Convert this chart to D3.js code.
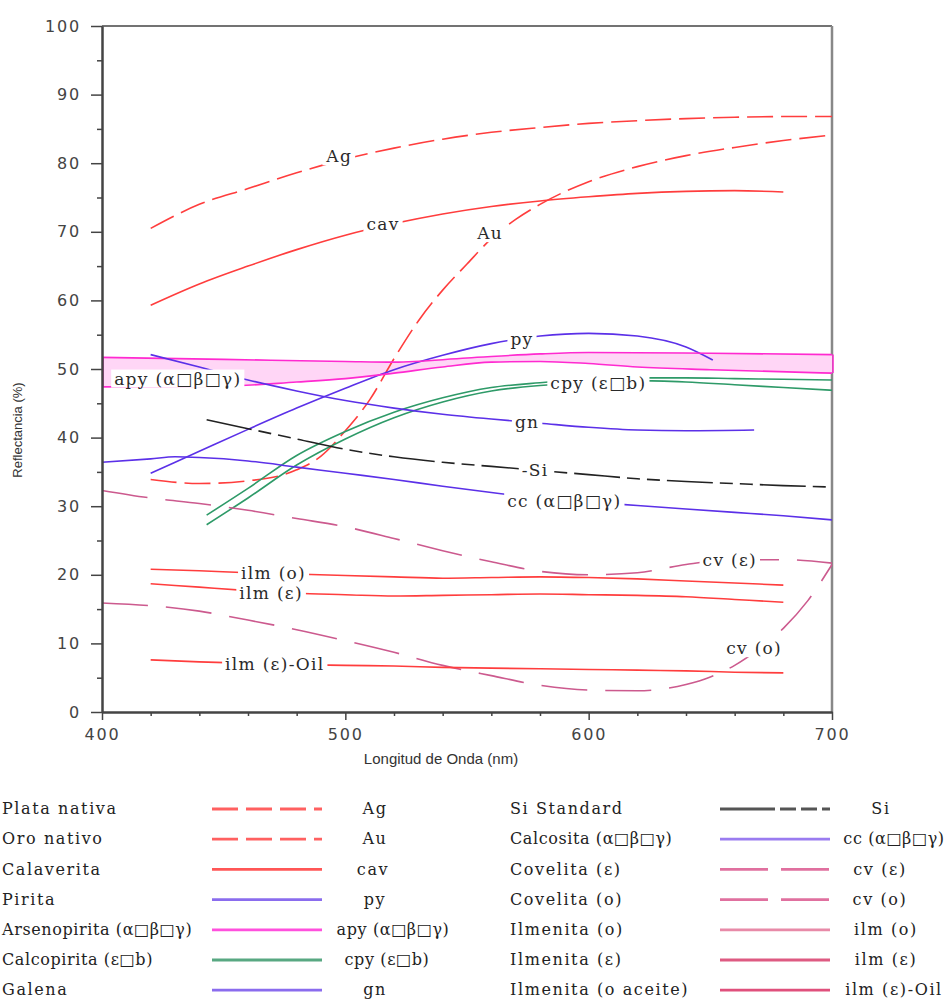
<!DOCTYPE html>
<html><head><meta charset="utf-8">
<script src="https://cdn.jsdelivr.net/npm/d3@7"></script>
<style>body{margin:0;background:#fff}svg{display:block}</style>
</head><body>
<svg id="c" width="952" height="1001"></svg>
<script>
// ---------- data (wavelength nm, reflectance %) ----------
const agData  = [[420,70.5],[440,74.0],[460,76.3],[480,78.6],[500,80.6],[520,82.2],[540,83.5],[560,84.5],[580,85.2],[600,85.8],[620,86.2],[640,86.5],[660,86.7],[680,86.8],[700,86.8]];
const auData  = [[420,33.9],[440,33.3],[460,33.7],[480,35.3],[490,37.3],[500,41.0],[510,45.5],[520,51.5],[530,57.0],[540,61.5],[550,65.3],[560,69.0],[570,71.8],[580,74.0],[600,77.3],[620,79.5],[640,81.1],[660,82.3],[680,83.3],[700,84.1]];
const cavData = [[420,59.3],[440,62.4],[460,65.0],[480,67.4],[500,69.5],[520,71.2],[540,72.6],[560,73.7],[580,74.5],[600,75.1],[620,75.6],[640,75.9],[660,76.0],[680,75.8]];
const pyData  = [[420,34.8],[440,38.0],[460,41.2],[480,44.3],[500,47.2],[520,49.9],[540,52.0],[560,53.7],[580,54.8],[600,55.2],[620,54.8],[640,53.2],[651,51.3]];
const apyHigh = [[400,51.7],[450,51.4],[500,51.1],[520,51.0],[550,51.6],[580,52.2],[600,52.4],[650,52.3],[700,52.1]];
const apyLow  = [[400,47.4],[450,47.5],[480,48.1],[500,48.6],[520,49.4],[540,50.3],[560,51.0],[580,51.1],[600,50.8],[620,50.3],[650,49.9],[700,49.4]];
const cpyA    = [[443,28.7],[460,32.6],[480,37.4],[500,40.9],[520,43.7],[540,45.8],[560,47.3],[580,48.0],[600,48.5],[620,48.7],[640,48.7],[660,48.6],[680,48.5],[700,48.4]];
const cpyB    = [[443,27.3],[460,31.2],[480,36.0],[500,39.8],[520,42.9],[540,45.2],[560,46.8],[580,47.6],[600,48.0],[620,48.3],[640,48.1],[660,47.7],[680,47.3],[700,46.9]];
const gnData  = [[420,52.1],[440,50.3],[460,48.4],[480,46.8],[500,45.4],[520,44.3],[540,43.4],[560,42.7],[580,42.1],[600,41.5],[620,41.1],[640,41.0],[668,41.1]];
const siData  = [[443,42.6],[460,41.3],[480,39.8],[500,38.3],[520,37.2],[540,36.4],[560,35.8],[580,35.2],[600,34.6],[620,34.0],[640,33.6],[660,33.3],[680,33.0],[700,32.8]];
const ccData  = [[400,36.4],[420,36.9],[430,37.2],[440,37.1],[460,36.6],[480,35.7],[500,34.8],[520,33.9],[540,32.9],[560,32.0],[580,31.2],[600,30.6],[620,30.1],[640,29.6],[660,29.1],[680,28.6],[700,28.0]];
const cvEData = [[400,32.3],[420,31.2],[440,30.4],[460,29.4],[480,28.2],[500,27.0],[520,25.3],[540,23.5],[560,21.9],[580,20.5],[600,20.0],[620,20.3],[640,21.5],[660,22.2],[680,22.2],[700,21.7]];
const cvOData = [[400,15.9],[420,15.5],[440,14.7],[460,13.4],[480,12.0],[500,10.4],[520,8.7],[540,6.8],[560,5.3],[580,3.9],[600,3.2],[620,3.1],[640,4.0],[650,5.1],[660,6.8],[670,9.2],[680,12.2],[690,16.2],[700,21.5]];
const ilmOData = [[420,20.8],[440,20.6],[460,20.3],[480,20.1],[500,19.9],[520,19.7],[540,19.5],[560,19.6],[580,19.7],[600,19.6],[620,19.4],[640,19.1],[660,18.8],[680,18.5]];
const ilmEData = [[420,18.7],[440,18.2],[460,17.7],[480,17.3],[500,17.1],[520,16.9],[540,17.0],[560,17.1],[580,17.2],[600,17.1],[620,17.0],[640,16.8],[660,16.4],[680,16.0]];
const ilmOilData = [[420,7.6],[440,7.3],[460,7.1],[480,6.9],[500,6.8],[520,6.7],[540,6.5],[560,6.4],[580,6.3],[600,6.2],[620,6.1],[640,6.0],[660,5.8],[680,5.7]];

const yTicks = [0,10,20,30,40,50,60,70,80,90,100];
const xTicks = [400,500,600,700];

const legendLeftNames  = ["Plata nativa","Oro nativo","Calaverita","Pirita","Arsenopirita (\u03b1\u25a1\u03b2\u25a1\u03b3)","Calcopirita (\u03b5\u25a1b)","Galena"];
const legendLeftCodes  = ["Ag","Au","cav","py","apy (\u03b1\u25a1\u03b2\u25a1\u03b3)","cpy (\u03b5\u25a1b)","gn"];
const legendRightNames = ["Si Standard","Calcosita (\u03b1\u25a1\u03b2\u25a1\u03b3)","Covelita (\u03b5)","Covelita (\u03bf)","Ilmenita (\u03bf)","Ilmenita (\u03b5)","Ilmenita (\u03bf aceite)"];
const legendRightCodes = ["Si","cc (\u03b1\u25a1\u03b2\u25a1\u03b3)","cv (\u03b5)","cv (\u03bf)","ilm (\u03bf)","ilm (\u03b5)","ilm (\u03b5)-Oil"];

// ---------- styles / layout ----------
const RED="#ff3d3d", BLUE="#5b30e8", MAG="#ff2ad0", GRN="#2e9a68", BLK="#222", CV="#cc5a8e";
const DASH_AG="26,8", DASH_SI="46,7,13,7,13,7", DASH_CV="46,18";
const leftCodeX  = [375,375,373,375,393,387,375];
const rightCodeX = [881,894,880,880,886,886,894];

const series = [
  {d:agData,  c:RED, dash:DASH_AG},
  {d:auData,  c:RED, dash:DASH_AG},
  {d:cavData, c:RED},
  {d:pyData,  c:BLUE},
  {d:apyHigh, c:MAG},
  {d:apyLow,  c:MAG},
  {d:cpyA,    c:GRN},
  {d:cpyB,    c:GRN},
  {d:gnData,  c:BLUE},
  {d:siData,  c:BLK, dash:DASH_SI},
  {d:ccData,  c:BLUE},
  {d:cvEData, c:CV, dash:DASH_CV},
  {d:cvOData, c:CV, dash:DASH_CV},
  {d:ilmOData, c:RED},
  {d:ilmEData, c:RED},
  {d:ilmOilData, c:RED}
];

// labels: [text, wavelength, reflectance, anchor]
const plotLabels = [
  ["Ag",497.5,81,"middle"],
  ["cav",515.5,71.2,"middle"],
  ["Au",559.5,69.8,"middle"],
  ["py",572.6,54.3,"middle"],
  ["apy (\u03b1\u25a1\u03b2\u25a1\u03b3)",405,48.6,"start"],
  ["cpy (\u03b5\u25a1b)",604,47.9,"middle"],
  ["gn",574.7,42.2,"middle"],
  ["-Si",578,35.3,"middle"],
  ["cc (\u03b1\u25a1\u03b2\u25a1\u03b3)",590,30.7,"middle"],
  ["cv (\u03b5)",658,22.2,"middle"],
  ["ilm (\u03bf)",470.5,20.2,"middle"],
  ["ilm (\u03b5)",469.5,17.4,"middle"],
  ["cv (\u03bf)",668,9.3,"middle"],
  ["ilm (\u03b5)-Oil",471,7.0,"middle"]
];

const svg = d3.select("#c");
const x = d3.scaleLinear().domain([400,700]).range([102,832]);
const y = d3.scaleLinear().domain([0,100]).range([712,26]);

// frame (top & right)
svg.append("path").attr("d",`M${x(400)},${y(100)}H${x(700)}`).attr("stroke","#444").attr("stroke-width",1.5).attr("fill","none");
svg.append("path").attr("d",`M${x(700)},${y(100)}V${y(0)}`).attr("stroke","#888").attr("stroke-width",2.5).attr("fill","none");

// apy band fill
const area = d3.area().x(d=>x(d[0])).y0(d=>y(d[1])).y1(d=>y(d[2])).curve(d3.curveMonotoneX);
const bandX = d3.range(400,701,5);
const interp = (arr,v)=>{ for(let i=0;i<arr.length-1;i++){ if(v>=arr[i][0]&&v<=arr[i+1][0]){const t=(v-arr[i][0])/(arr[i+1][0]-arr[i][0]);return arr[i][1]+t*(arr[i+1][1]-arr[i][1]);} } return arr[arr.length-1][1]; };
svg.append("path").datum(bandX.map(v=>[v,interp(apyHigh,v),interp(apyLow,v)]))
  .attr("d",area).attr("fill","#ffd6f6").attr("stroke","none");
[400,700].forEach(v=>{
  svg.append("line").attr("x1",x(v)+1).attr("x2",x(v)+1).attr("y1",y(apyHigh.find(d=>d[0]===v)[1])).attr("y2",y(apyLow.find(d=>d[0]===v)[1])).attr("stroke",MAG).attr("stroke-width",1.5);
});

const line = d3.line().x(d=>x(d[0])).y(d=>y(d[1])).curve(d3.curveMonotoneX);
series.forEach(s=>{
  svg.append("path").datum(s.d).attr("d",line).attr("fill","none")
    .attr("stroke",s.c).attr("stroke-width",1.6)
    .attr("stroke-dasharray",s.dash||null);
});

// axes
svg.append("g").attr("transform",`translate(${x(400)},0)`)
  .call(d3.axisLeft(y).tickValues(yTicks).tickSize(11).tickPadding(10).tickSizeOuter(0));
svg.append("g").attr("transform",`translate(${x(400)},0)`)
  .call(d3.axisLeft(y).tickValues(d3.range(5,100,10)).tickSize(5).tickFormat("").tickSizeOuter(0));
svg.append("g").attr("transform",`translate(0,${y(0)})`)
  .call(d3.axisBottom(x).tickValues(xTicks).tickSize(8).tickPadding(9).tickSizeOuter(0));
svg.append("g").attr("transform",`translate(0,${y(0)})`)
  .call(d3.axisBottom(x).tickValues(d3.range(420,700,20).filter(v=>v%100)).tickSize(4).tickFormat("").tickSizeOuter(0));
svg.selectAll(".domain").attr("stroke","#444").attr("stroke-width",2);
svg.selectAll(".tick line").attr("stroke","#444").attr("stroke-width",1.5);
svg.selectAll(".tick text").attr("font-family","DejaVu Sans").attr("font-size",16).attr("fill","#444").attr("letter-spacing","1.8px");

// axis titles
svg.append("text").attr("transform","translate(22,430) rotate(-90)").attr("text-anchor","middle")
  .attr("font-family","Liberation Sans").attr("font-size",13).attr("fill","#333").text("Reflectancia (%)");
svg.append("text").attr("x",441).attr("y",764).attr("text-anchor","middle")
  .attr("font-family","Liberation Sans").attr("font-size",15).attr("fill","#333").text("Longitud de Onda (nm)");

// plot labels with white background
const SERIF="DejaVu Serif";
plotLabels.forEach(l=>{
  const g = svg.append("g");
  const t = g.append("text").attr("x",x(l[1])).attr("y",y(l[2])).attr("dy","0.35em")
    .attr("text-anchor",l[3]).attr("font-family",SERIF).attr("font-size",17)
    .attr("letter-spacing","1.3px").attr("fill","#2a2a2a").text(l[0]);
  const b = t.node().getBBox();
  g.insert("rect","text").attr("x",b.x-3).attr("y",b.y+1).attr("width",b.width+6).attr("height",b.height-2).attr("fill","#fff");
});

// legend
const rowY = d3.range(7).map(i=>809 + i*30.2);
const legLeft = [
  {c:"#ff6060",dash:"26,8"},{c:"#ff6060",dash:"26,8"},{c:"#ff5656"},{c:"#8a6cee"},{c:"#ff50dd"},{c:"#58a882"},{c:"#8a6cee"}
];
const legRight = [
  {c:"#555",dash:"55,5,16,5,16,5"},{c:"#9a7cf0"},{c:"#e0709f",dash:"48,13"},{c:"#e0709f",dash:"48,13"},{c:"#e88aa8"},{c:"#de5a82"},{c:"#e0507c"}
];
const legText = (xx,yy,txt,anchor)=>svg.append("text").attr("x",xx).attr("y",yy).attr("dy","0.33em")
  .attr("text-anchor",anchor).attr("font-family",SERIF).attr("font-size",16)
  .attr("letter-spacing", txt.includes("\u25a1") ? "0.6px" : "1.6px")
  .attr("fill","#222").text(txt);
legendLeftNames.forEach((n,i)=>{
  legText(2,rowY[i],n,"start");
  svg.append("line").attr("x1",212).attr("x2",322).attr("y1",rowY[i]).attr("y2",rowY[i])
    .attr("stroke",legLeft[i].c).attr("stroke-width",2.8).attr("stroke-dasharray",legLeft[i].dash||null);
  legText(leftCodeX[i],rowY[i],legendLeftCodes[i],"middle");
});
legendRightNames.forEach((n,i)=>{
  legText(510,rowY[i],n,"start");
  svg.append("line").attr("x1",720).attr("x2",830).attr("y1",rowY[i]).attr("y2",rowY[i])
    .attr("stroke",legRight[i].c).attr("stroke-width",2.8).attr("stroke-dasharray",legRight[i].dash||null);
  legText(rightCodeX[i],rowY[i],legendRightCodes[i],"middle");
});
</script>
</body></html>
